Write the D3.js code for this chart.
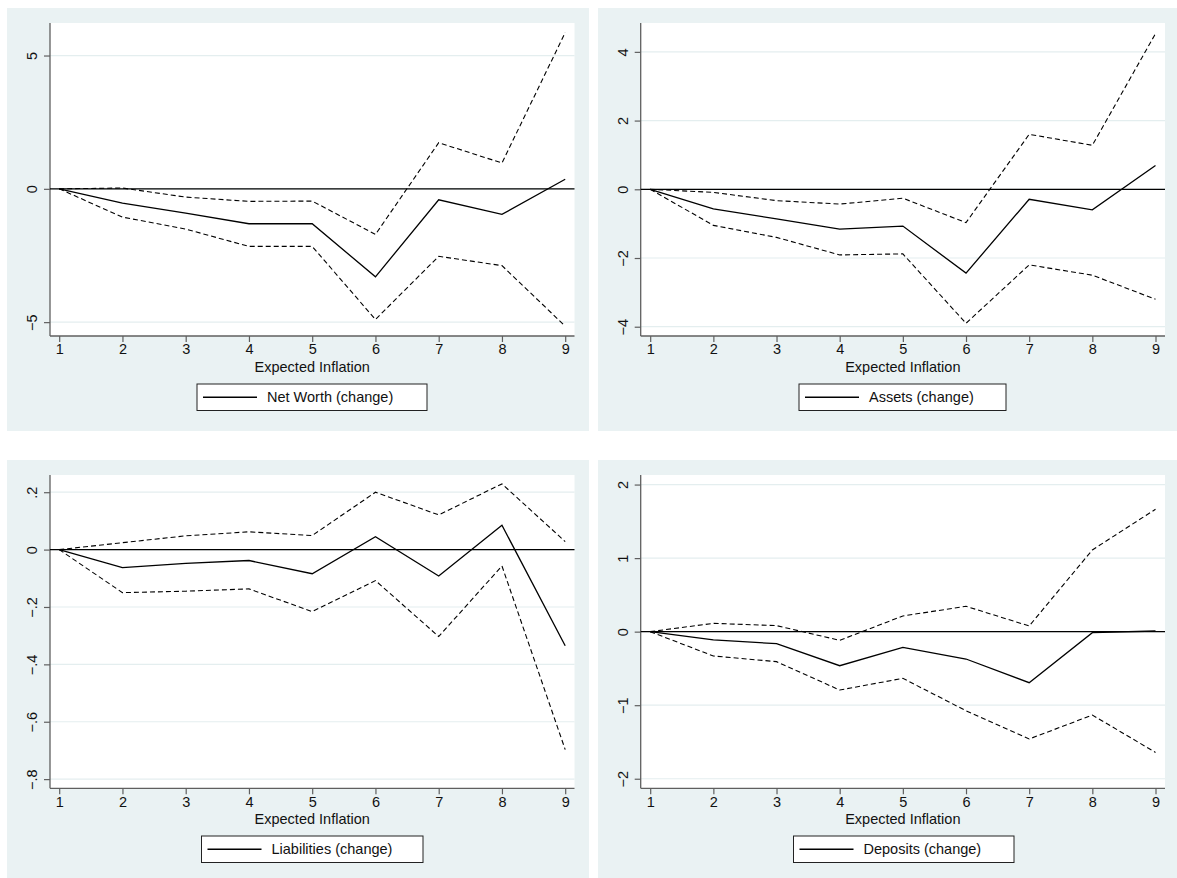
<!DOCTYPE html>
<html>
<head>
<meta charset="utf-8">
<script src="https://cdn.jsdelivr.net/npm/d3@7"></script>
<style>
  body { margin: 0; background: #fff; }
  text { font-family: "Liberation Sans", Arial, sans-serif; }
</style>
</head>
<body>
<svg id="chart" width="1177" height="878"></svg>
<script>
// horizon steps on the x axis
const steps = [1, 2, 3, 4, 5, 6, 7, 8, 9]

// Net Worth (change) with bands
const netWorth      = [0, -0.54, -0.91, -1.31, -1.31, -3.30, -0.41, -0.96, 0.36]
const netWorthUpper = [0, 0.03, -0.31, -0.47, -0.46, -1.71, 1.73, 0.97, 5.86]
const netWorthLower = [0, -1.06, -1.51, -2.16, -2.16, -4.90, -2.53, -2.88, -5.15]
const netWorthTicks = [-5, 0, 5]

// Assets (change)
const assets      = [0, -0.57, -0.86, -1.16, -1.07, -2.44, -0.29, -0.60, 0.69]
const assetsUpper = [0, -0.09, -0.33, -0.43, -0.26, -0.97, 1.60, 1.28, 4.53]
const assetsLower = [0, -1.05, -1.40, -1.91, -1.88, -3.90, -2.20, -2.50, -3.20]
const assetsTicks = [-4, -2, 0, 2, 4]

// Liabilities (change)
const liabilities      = [0, -0.063, -0.048, -0.038, -0.084, 0.045, -0.092, 0.085, -0.335]
const liabilitiesUpper = [0, 0.024, 0.048, 0.062, 0.049, 0.200, 0.121, 0.229, 0.028]
const liabilitiesLower = [0, -0.150, -0.145, -0.137, -0.216, -0.108, -0.303, -0.057, -0.697]
const liabilitiesTicks = [-0.8, -0.6, -0.4, -0.2, 0, 0.2]

// Deposits (change)
const deposits      = [0, -0.113, -0.163, -0.463, -0.213, -0.372, -0.694, -0.014, 0.009]
const depositsUpper = [0, 0.113, 0.082, -0.118, 0.213, 0.345, 0.077, 1.111, 1.664]
const depositsLower = [0, -0.331, -0.408, -0.794, -0.635, -1.075, -1.460, -1.134, -1.642]
const depositsTicks = [-2, -1, 0, 1, 2]

const xTitle = 'Expected Inflation'

// stata style number: drop leading zero, use minus sign
function stataFmt(v) {
  let s = String(Math.round(v * 1000) / 1000)
  s = s.replace(/^(-?)0\./, '$1.')
  return s.replace('-', '\u2212')
}

const panels = [
  { name: 'Net Worth (change)', mid: netWorth, up: netWorthUpper, lo: netWorthLower, ticks: netWorthTicks,
    bg: [7, 8, 589, 431], plot: [50, 23, 574.5, 336], xr: [59.2, 565.2], yd: [6.22, -5.52], leg: [197, 384, 427, 410.5] },
  { name: 'Assets (change)', mid: assets, up: assetsUpper, lo: assetsLower, ticks: assetsTicks,
    bg: [598, 8, 1177, 431], plot: [640.7, 23, 1165, 336], xr: [650.2, 1155.5], yd: [4.84, -4.27], leg: [799, 384, 1006, 410.5] },
  { name: 'Liabilities (change)', mid: liabilities, up: liabilitiesUpper, lo: liabilitiesLower, ticks: liabilitiesTicks,
    bg: [7, 460, 589, 878], plot: [50, 475, 574.5, 788.3], xr: [59.2, 565.2], yd: [0.26, -0.832], leg: [201.5, 836, 423, 862.5] },
  { name: 'Deposits (change)', mid: deposits, up: depositsUpper, lo: depositsLower, ticks: depositsTicks,
    bg: [598, 460, 1177, 878], plot: [640.7, 475, 1165, 788.3], xr: [650.2, 1155.5], yd: [2.13, -2.13], leg: [793.5, 836, 1014, 862.5] }
]

const fontSize = '14.5px'
const svg = d3.select('#chart')

panels.forEach(p => {
  const g = svg.append('g')
  const [bx0, by0, bx1, by1] = p.bg
  const [px0, py0, px1, py1] = p.plot

  g.append('rect')
    .attr('x', bx0).attr('y', by0)
    .attr('width', bx1 - bx0).attr('height', by1 - by0)
    .style('fill', '#eaf2f3')

  g.append('rect')
    .attr('x', px0).attr('y', py0)
    .attr('width', px1 - px0).attr('height', py1 - py0)
    .style('fill', '#fff')

  const x = d3.scaleLinear().domain([1, 9]).range(p.xr)
  const y = d3.scaleLinear().domain([p.yd[1], p.yd[0]]).range([py1, py0])

  // grid
  g.selectAll('.grid').data(p.ticks).enter().append('line')
    .attr('x1', px0).attr('x2', px1)
    .attr('y1', d => y(d)).attr('y2', d => y(d))
    .style('stroke', '#e4eeef').style('stroke-width', 1.2)

  // y axis
  const yAxis = d3.axisLeft(y).tickValues(p.ticks).tickSize(6).tickFormat(stataFmt)
  const ya = g.append('g').attr('transform', `translate(${px0},0)`).call(yAxis)
  ya.select('.domain').attr('d', `M0,${py0}V${py1}`)
  ya.selectAll('text')
    .attr('transform', 'translate(-18,0) rotate(-90)')
    .attr('x', 0).attr('y', 0).attr('dy', '0.35em')
    .style('text-anchor', 'middle')

  // x axis
  const xAxis = d3.axisBottom(x).tickValues(steps).tickSize(6).tickFormat(d3.format('d'))
  const xa = g.append('g').attr('transform', `translate(0,${py1})`).call(xAxis)
  xa.select('.domain').attr('d', `M${px0},0H${px1}`)
  xa.selectAll('text').attr('y', 8).attr('dy', '0.71em')

  svg.selectAll('.domain').style('stroke', '#5f5f5f').style('stroke-width', 1.3)
  svg.selectAll('.tick line').style('stroke', '#5f5f5f').style('stroke-width', 1.2)
  svg.selectAll('.tick text').style('font-size', fontSize).style('fill', '#111').style('font-family', '"Liberation Sans", Arial, sans-serif')

  g.append('text')
    .attr('x', (p.xr[0] + p.xr[1]) / 2).attr('y', py1 + 36)
    .style('text-anchor', 'middle').style('font-size', fontSize).style('fill', '#111')
    .text(xTitle)

  // zero line
  g.append('line')
    .attr('x1', px0).attr('x2', px1)
    .attr('y1', y(0)).attr('y2', y(0))
    .style('stroke', '#000').style('stroke-width', 1.3)

  const line = d3.line().x((d, i) => x(steps[i])).y(d => y(d))

  g.append('path').datum(p.up).attr('d', line)
    .style('fill', 'none').style('stroke', '#000').style('stroke-width', 1.1).style('stroke-dasharray', '5,3')
  g.append('path').datum(p.lo).attr('d', line)
    .style('fill', 'none').style('stroke', '#000').style('stroke-width', 1.1).style('stroke-dasharray', '5,3')
  g.append('path').datum(p.mid).attr('d', line)
    .style('fill', 'none').style('stroke', '#000').style('stroke-width', 1.3)

  // legend
  const [lx0, ly0, lx1, ly1] = p.leg
  g.append('rect')
    .attr('x', lx0).attr('y', ly0)
    .attr('width', lx1 - lx0).attr('height', ly1 - ly0)
    .style('fill', '#fff').style('stroke', '#222').style('stroke-width', 1)
  const ly = (ly0 + ly1) / 2
  g.append('line')
    .attr('x1', lx0 + 6).attr('x2', lx0 + 60)
    .attr('y1', ly).attr('y2', ly)
    .style('stroke', '#000').style('stroke-width', 1.3)
  g.append('text')
    .attr('x', lx0 + 70).attr('y', ly).attr('dy', '0.36em')
    .style('font-size', fontSize).style('fill', '#111')
    .text(p.name)
})
</script>
</body>
</html>
